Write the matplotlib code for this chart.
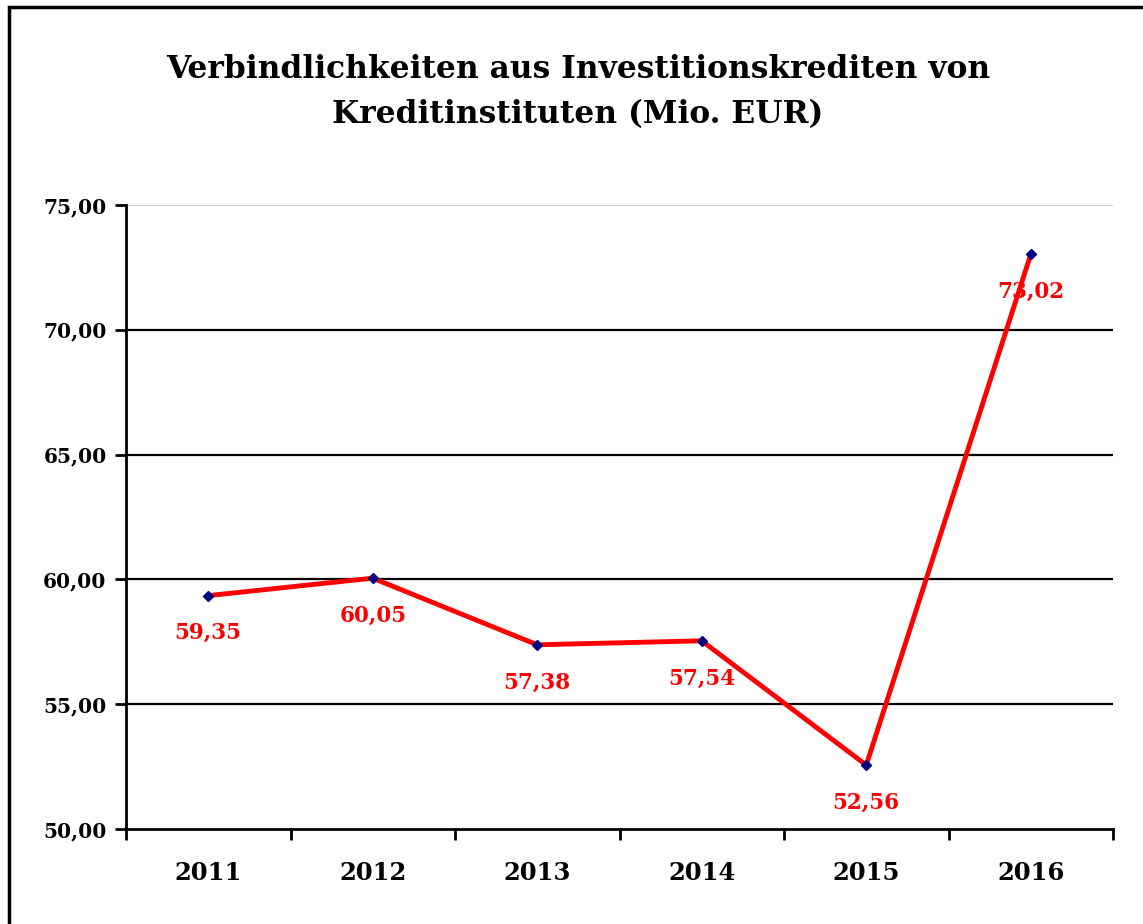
import matplotlib.pyplot as plt
from matplotlib.patches import Rectangle

# Werte aus dem Diagramm
years = ['2011', '2012', '2013', '2014', '2015', '2016']
values = [59.35, 60.05, 57.38, 57.54, 52.56, 73.02]
yticks = [50, 55, 60, 65, 70, 75]

plt.rcParams['font.family'] = ['DejaVu Serif']
plt.rcParams['font.weight'] = 'bold'

W, H = 1143, 924
fig = plt.figure(figsize=(W / 100, H / 100), dpi=100)
ax = fig.add_axes([126 / W, 1 - 829 / H, (1113 - 126) / W, (829 - 205) / H])

x = list(range(len(years)))
ax.plot(x, values, color='red', lw=3.5, zorder=3,
        marker='D', ms=5, mfc='#000080', mec='#000080')

for xi, v in zip(x, values):
    lab = f'{v:.2f}'.replace('.', ',')
    ax.annotate(lab, (xi, v), xytext=(0, -27), textcoords='offset points',
                ha='center', va='center', color='red', fontsize=15.5,
                fontweight='bold', zorder=4)

ax.set_xlim(-0.5, len(years) - 0.5)
ax.set_ylim(50, 75)
ax.set_yticks(yticks)
ax.set_yticklabels([f'{t:.2f}'.replace('.', ',') for t in yticks],
                   fontsize=14.5, fontweight='bold')
for t in yticks[1:-1]:
    ax.axhline(t, color='black', lw=1.6, zorder=1)
ax.axhline(75, color='#c8c8c8', lw=1.5, zorder=1)

# Kategorieachse: Striche zwischen den Jahren
ax.set_xticks([i - 0.5 for i in range(len(years) + 1)])
ax.set_xticklabels([])
ax.set_xticks(x, minor=True)
ax.set_xticklabels(years, minor=True, fontsize=17.5, fontweight='bold')
ax.tick_params(axis='x', which='minor', length=0, pad=23)
ax.tick_params(axis='x', which='major', direction='out', length=8, width=2)
ax.tick_params(axis='y', direction='out', length=8, width=2, pad=6)

for s in ['top', 'right']:
    ax.spines[s].set_visible(False)
ax.spines['left'].set_linewidth(2)
ax.spines['bottom'].set_linewidth(2)

fig.text(578 / W, 1 - 92 / H,
         'Verbindlichkeiten aus Investitionskrediten von\nKreditinstituten (Mio. EUR)',
         ha='center', va='center', fontsize=22.5, fontweight='bold', linespacing=1.55)

# Rahmen um das Diagramm (rechts/unten abgeschnitten)
fig.patches.append(Rectangle((9 / W, -0.05), 1.1, 1 - 7 / H + 0.05,
                             transform=fig.transFigure, fill=False,
                             edgecolor='black', lw=2.5))

fig.savefig('out.png', dpi=100)
